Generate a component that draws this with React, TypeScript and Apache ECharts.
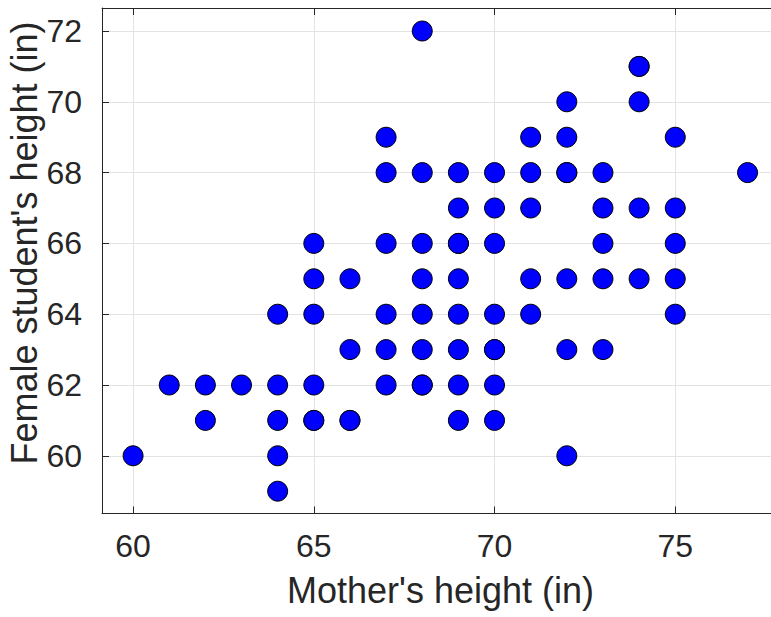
import { useEffect, useRef } from "react";
import * as echarts from "echarts";

// Mother's height (in) for each student, paired by index with studentHeight.
const motherHeight = [
  60,
  61,
  62, 62,
  63,
  64, 64, 64, 64, 64,
  65, 65, 65, 65, 65, 65,
  66, 66, 66, 66,
  67, 67, 67, 67, 67, 67,
  68, 68, 68, 68, 68, 68, 68, 68,
  69, 69, 69, 69, 69, 69, 69, 69, 69,
  70, 70, 70, 70, 70, 70, 70, 70,
  71, 71, 71, 71, 71,
  72, 72, 72, 72, 72, 72, 72,
  73, 73, 73, 73, 73,
  74, 74, 74, 74, 74,
  75, 75, 75, 75, 75,
  77,
];

// Female student's height (in).
const studentHeight = [
  60,
  62,
  62, 61,
  62,
  64, 62, 61, 60, 59,
  66, 65, 64, 62, 61, 61,
  65, 63, 61, 61,
  69, 68, 66, 64, 63, 62,
  72, 68, 66, 65, 64, 63, 62, 62,
  68, 67, 66, 66, 65, 64, 63, 62, 61,
  68, 67, 66, 64, 63, 63, 62, 61,
  69, 68, 67, 65, 64,
  70, 69, 68, 68, 65, 63, 60,
  68, 67, 66, 65, 63,
  71, 71, 70, 67, 65,
  69, 67, 66, 65, 64,
  68,
];

// Axis limits (in)
const xLimits = [59.14, 77.87];
const yLimits = [58.37, 72.65];

const FONT = '"Liberation Sans", Arial, Helvetica, sans-serif';
const INK = "#262626";
const GRID = "#e3e3e3";

const intLabel = (v: number) => (Number.isInteger(v) ? String(v) : "");

export default function App() {
  const ref = useRef<HTMLDivElement>(null);

  useEffect(() => {
    if (!ref.current) return;
    const chart = echarts.init(ref.current, null, { renderer: "svg" });

    const points = motherHeight.map((m, i) => [m, studentHeight[i]]);

    const tickStyle = {
      show: true,
      inside: true,
      length: 7,
      lineStyle: { color: INK, width: 1 },
    };

    chart.setOption({
      animation: false,
      backgroundColor: "#ffffff",
      textStyle: { fontFamily: FONT },
      grid: {
        left: 102,
        top: 8,
        right: -8,
        bottom: 103.5,
        containLabel: false,
        outerBoundsMode: "none",
      },
      xAxis: [
        {
          type: "value",
          min: xLimits[0],
          max: xLimits[1],
          splitNumber: 4,
          position: "bottom",
          name: "Mother's height (in)",
          nameLocation: "middle",
          nameGap: 59,
          nameTextStyle: { fontSize: 36, color: INK, fontFamily: FONT },
          axisLine: { show: true, lineStyle: { color: INK, width: 1 } },
          axisTick: tickStyle,
          axisLabel: {
            fontSize: 32,
            color: INK,
            fontFamily: FONT,
            margin: 16,
            formatter: intLabel,
          },
          splitLine: { show: true, lineStyle: { color: GRID, width: 1 } },
        },
        {
          type: "value",
          min: xLimits[0],
          max: xLimits[1],
          splitNumber: 4,
          position: "top",
          axisLine: { show: true, lineStyle: { color: INK, width: 1 } },
          axisTick: tickStyle,
          axisLabel: { show: false },
          splitLine: { show: false },
        },
      ],
      yAxis: [
        {
          type: "value",
          min: yLimits[0],
          max: yLimits[1],
          splitNumber: 7,
          position: "left",
          axisLine: { show: true, lineStyle: { color: INK, width: 1 } },
          axisTick: tickStyle,
          axisLabel: {
            fontSize: 32,
            color: INK,
            fontFamily: FONT,
            margin: 20,
            formatter: intLabel,
          },
          splitLine: { show: true, lineStyle: { color: GRID, width: 1 } },
        },
        {
          type: "value",
          min: yLimits[0],
          max: yLimits[1],
          splitNumber: 7,
          position: "right",
          axisLine: { show: true, lineStyle: { color: INK, width: 1 } },
          axisTick: tickStyle,
          axisLabel: { show: false },
          splitLine: { show: false },
        },
      ],
      graphic: [
        {
          type: "text",
          x: 24,
          y: 243,
          rotation: Math.PI / 2,
          style: {
            text: "Female student's height (in)",
            fontSize: 36,
            fontFamily: FONT,
            fill: INK,
            textAlign: "center",
            textVerticalAlign: "middle",
          },
        },
      ],
      series: [
        {
          type: "scatter",
          xAxisIndex: 0,
          yAxisIndex: 0,
          data: points,
          symbol: "circle",
          symbolSize: 20,
          itemStyle: {
            color: "#0000ff",
            borderColor: "#000000",
            borderWidth: 1,
            opacity: 1,
          },
          emphasis: { disabled: true },
        },
      ],
    });

    return () => chart.dispose();
  }, []);

  return (
    <div
      ref={ref}
      style={{ position: "absolute", left: 0, top: 0, width: 771, height: 617 }}
    />
  );
}
